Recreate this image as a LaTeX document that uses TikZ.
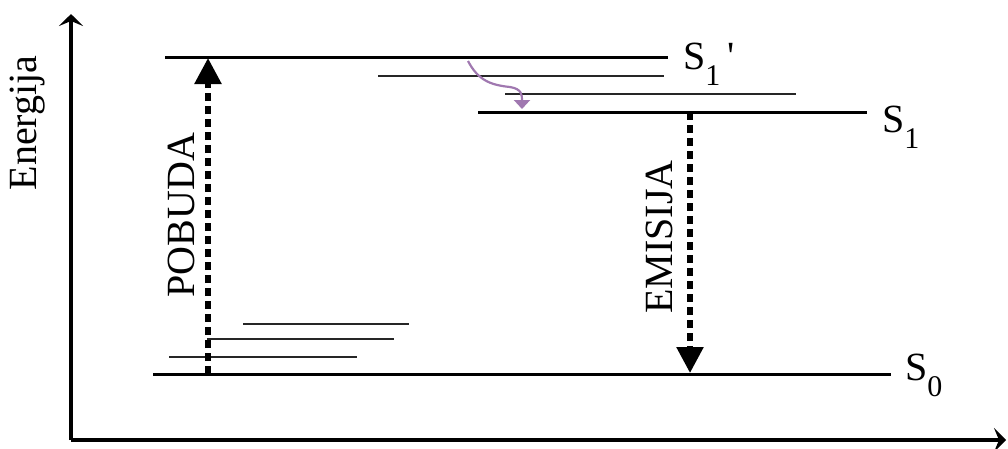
\documentclass[tikz,border=0pt]{standalone}
\usepackage{fontspec}
\setmainfont{Liberation Serif}
\usetikzlibrary{arrows.meta}

\tikzset{
  level/.style={line width=3pt},
  sublevel/.style={line width=1.8pt, black!85},
  axis/.style={line width=4pt, -{Stealth[length=12pt,width=24pt,inset=5pt]}},
  transition/.style={line width=5.5pt, dash pattern=on 8pt off 5pt,
    -{Triangle[length=26pt,width=26pt]}},
  relax/.style={line width=2.2pt, color=wavy, -{Triangle[length=9pt,width=16pt]}},
  lbl/.style={inner sep=0pt, font=\fontsize{40}{40}\selectfont},
}
\definecolor{wavy}{RGB}{160,120,176}
\newcommand{\state}[2]{S\raisebox{-16pt}{\fontsize{30}{30}\selectfont #1}#2}

\begin{document}
\begin{tikzpicture}[x=1pt, y=-1pt]
      \useasboundingbox (0,0) rectangle (1008,448);
      % axes
      \coordinate (origin) at (71,440);
      \coordinate (ytop) at (71,14);
      \coordinate (xend) at (1006,440);
      \draw[axis] (origin) -- (ytop);
      \draw[axis] (origin) -- (xend);
      \node[lbl, rotate=90] (energy) at (28,123) {Energija};
      % excited state S1'
      \coordinate (s1pa) at (165,57);  \coordinate (s1pb) at (668,57);
      \draw[level] (s1pa) -- (s1pb);
      \coordinate (v1a) at (378,76);  \coordinate (v1b) at (664,76);
      \draw[sublevel] (v1a) -- (v1b);
      \coordinate (v2a) at (505,94);  \coordinate (v2b) at (796,94);
      \draw[sublevel] (v2a) -- (v2b);
      % relaxed state S1
      \coordinate (s1a) at (478,112);  \coordinate (s1b) at (867,112);
      \draw[level] (s1a) -- (s1b);
      % ground state S0
      \coordinate (v3a) at (243,324);  \coordinate (v3b) at (409,324);
      \draw[sublevel] (v3a) -- (v3b);
      \coordinate (v4a) at (207,339);  \coordinate (v4b) at (394,339);
      \draw[sublevel] (v4a) -- (v4b);
      \coordinate (v5a) at (169,357);  \coordinate (v5b) at (357,357);
      \draw[sublevel] (v5a) -- (v5b);
      \coordinate (s0a) at (153,374);  \coordinate (s0b) at (891,374);
      \draw[level] (s0a) -- (s0b);
      % labels
      \node[lbl, anchor=base west] (s1plbl) at (683,69) {\state{1}{\,\textquotesingle}};
      \node[lbl, anchor=base west] (s1lbl) at (882,132) {\state{1}{}};
      \node[lbl, anchor=base west] (s0lbl) at (905,380) {\state{0}{}};
      % transitions
      \coordinate (exbot) at (208,374);  \coordinate (extop) at (208,58);
      \draw[transition] (exbot) -- (extop);
      \node[lbl, rotate=90] (exlbl) at (181,215) {POBUDA};
      \coordinate (emtop) at (690,112);  \coordinate (embot) at (690,373);
      \draw[transition] (emtop) -- (embot);
      \node[lbl, rotate=90] (emlbl) at (659,237) {EMISIJA};
      % vibrational relaxation
      \coordinate (rxa) at (468,61);  \coordinate (rxb) at (522,109);
      \draw[relax] (rxa) .. controls (478,80) and (490,85) .. (510,87)
        .. controls (522,89) and (522,95) .. (rxb);
\end{tikzpicture}
\end{document}
